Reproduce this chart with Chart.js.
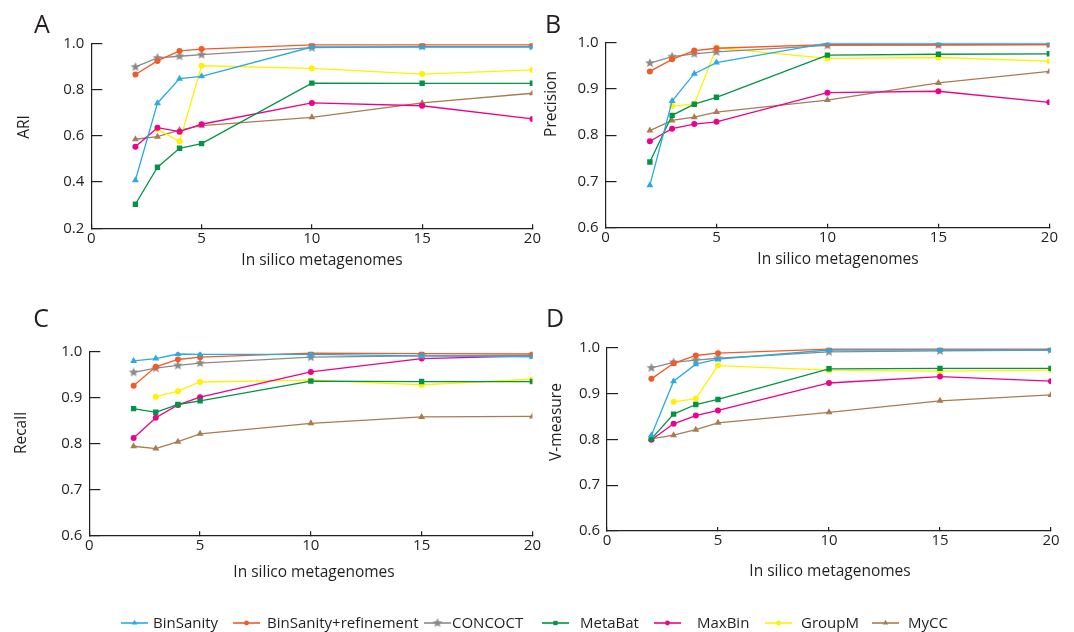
<!DOCTYPE html>
<html>
<head>
<meta charset="utf-8">
<script src="https://cdn.jsdelivr.net/npm/chart.js@4.4.1/dist/chart.umd.min.js"></script>
<style>
  body { margin: 0; width: 1074px; height: 632px; background: #fff; position: relative; overflow: hidden;
         font-family: 'Open Sans', sans-serif; color: #231f20; }
  canvas { position: absolute; }
  .txt { position: absolute; white-space: nowrap; line-height: 1; transform: translate(-50%, -50%); }
  .letter { font-size: 25px; }
  .title { font-size: 15.5px; }
  .ytitle { transform: translate(-50%, -50%) rotate(-90deg); }
  .leg { position: absolute; font-size: 15px; line-height: 1; top: 615px; white-space: nowrap; }
</style>
</head>
<body>
<canvas id="chartA" width="546" height="282"></canvas>
<canvas id="chartB" width="537" height="282"></canvas>
<canvas id="chartC" width="546" height="292"></canvas>
<canvas id="chartD" width="537" height="292"></canvas>
<canvas id="legendMarks" width="1074" height="20" style="left:0;top:613px"></canvas>

<div class="txt letter" style="left:42px;top:23px">A</div>
<div class="txt letter" style="left:553px;top:23px">B</div>
<div class="txt letter" style="left:41px;top:317px">C</div>
<div class="txt letter" style="left:555px;top:317px">D</div>

<div class="txt title ytitle" style="left:24px;top:127px">ARI</div>
<div class="txt title ytitle" style="left:551px;top:104px">Precision</div>
<div class="txt title ytitle" style="left:21px;top:433px">Recall</div>
<div class="txt title ytitle" style="left:556px;top:422px">V-measure</div>

<div class="txt title" style="left:322px;top:260px">In silico metagenomes</div>
<div class="txt title" style="left:838px;top:259px">In silico metagenomes</div>
<div class="txt title" style="left:314px;top:572px">In silico metagenomes</div>
<div class="txt title" style="left:830px;top:571px">In silico metagenomes</div>

<script>
// x: number of in silico metagenomes
const xValues = [2, 3, 4, 5, 10, 15, 20];
const methodNames = ['BinSanity', 'BinSanity+refinement', 'CONCOCT', 'MetaBat', 'MaxBin', 'GroupM', 'MyCC'];

// A - ARI
const ariBinSanity = [0.408, 0.741, 0.847, 0.857, 0.984, 0.984, 0.984];
const ariRefine    = [0.865, 0.924, 0.967, 0.975, 0.993, 0.993, 0.993];
const ariConcoct   = [0.898, 0.937, 0.944, 0.951, 0.981, 0.986, 0.986];
const ariMetaBat   = [0.304, 0.464, 0.546, 0.566, 0.828, 0.827, 0.827];
const ariMaxBin    = [0.553, 0.635, 0.618, 0.650, 0.742, 0.730, 0.673];
const ariGroupM    = [null, 0.628, 0.575, 0.903, 0.892, 0.867, 0.885];
const ariMyCC      = [0.585, 0.596, 0.625, 0.644, 0.680, 0.742, 0.784];

// B - Precision
const precBinSanity = [0.692, 0.874, 0.933, 0.957, 0.999, 0.999, 0.999];
const precRefine    = [0.938, 0.964, 0.983, 0.988, 0.996, 0.996, 0.996];
const precConcoct   = [0.956, 0.970, 0.976, 0.980, 0.994, 0.995, 0.996];
const precMetaBat   = [0.742, 0.843, 0.867, 0.882, 0.973, 0.975, 0.976];
const precMaxBin    = [0.787, 0.814, 0.824, 0.829, 0.892, 0.895, 0.871];
const precGroupM    = [null, 0.863, 0.867, 0.989, 0.966, 0.968, 0.960];
const precMyCC      = [0.810, 0.832, 0.839, 0.850, 0.876, 0.913, 0.938];

// C - Recall
const recBinSanity = [0.980, 0.985, 0.995, 0.994, 0.994, 0.991, 0.989];
const recRefine    = [0.926, 0.967, 0.983, 0.988, 0.997, 0.996, 0.995];
const recConcoct   = [0.955, 0.964, 0.970, 0.975, 0.988, 0.991, 0.992];
const recMetaBat   = [0.876, 0.868, 0.885, 0.893, 0.936, 0.935, 0.935];
const recMaxBin    = [0.812, 0.856, 0.884, 0.901, 0.956, 0.985, 0.991];
const recGroupM    = [null, 0.902, 0.914, 0.934, 0.938, 0.928, 0.940];
const recMyCC      = [0.794, 0.789, 0.804, 0.821, 0.844, 0.858, 0.859];

// D - V-measure
const vmBinSanity = [0.809, 0.927, 0.964, 0.975, 0.995, 0.995, 0.995];
const vmRefine    = [0.932, 0.966, 0.983, 0.988, 0.997, 0.997, 0.997];
const vmConcoct   = [0.956, 0.968, 0.973, 0.977, 0.991, 0.993, 0.995];
const vmMetaBat   = [0.801, 0.855, 0.876, 0.887, 0.954, 0.955, 0.955];
const vmMaxBin    = [0.799, 0.834, 0.852, 0.863, 0.923, 0.937, 0.927];
const vmGroupM    = [null, 0.882, 0.889, 0.961, 0.951, 0.949, 0.951];
const vmMyCC      = [0.801, 0.809, 0.821, 0.836, 0.859, 0.884, 0.897];

// styles
const colors = ['#29abe2', '#f15a29', '#8a8a8a', '#009444', '#ec008c', '#fff200', '#a97c50'];
const ink = '#231f20';

// filled 5-point star for CONCOCT
function makeStar(color, r) {
  const c = document.createElement('canvas');
  const s = Math.ceil(r * 2 + 2);
  c.width = s; c.height = s;
  const g = c.getContext('2d');
  g.fillStyle = color;
  g.beginPath();
  for (let i = 0; i < 10; i++) {
    const rad = i % 2 === 0 ? r : r * 0.45;
    const a = -Math.PI / 2 + i * Math.PI / 5;
    g.lineTo(s / 2 + rad * Math.cos(a), s / 2 + rad * Math.sin(a));
  }
  g.closePath();
  g.fill();
  return c;
}
const starImg = makeStar(colors[2], 5);
const markers = ['triangle', 'circle', starImg, 'rect', 'circle', 'circle', 'triangle'];
const radii = [4, 3, 5, 3.8, 3, 3, 4];

Chart.defaults.font.family = "'Open Sans', sans-serif";
Chart.defaults.font.size = 15;
Chart.defaults.color = ink;

// ticks point into the plot: negative tick length, padding makes up for it
function makePanel(id, box, area, yMin, yMax, yStep, series) {
  const cv = document.getElementById(id);
  cv.style.left = box.left + 'px';
  cv.style.top = box.top + 'px';
  const l = area.l - box.left, t = area.t - box.top, r = area.r - box.left, b = area.b - box.top;
  const datasets = series.map((vals, i) => ({
    label: methodNames[i],
    data: xValues.map((x, j) => ({x: x, y: vals[j]})),
    borderColor: colors[i],
    backgroundColor: colors[i],
    borderWidth: 1.3,
    pointStyle: markers[i],
    pointRadius: radii[i],
    pointBorderWidth: 0,
    pointBackgroundColor: colors[i],
    tension: 0
  }));
  return new Chart(cv, {
    type: 'line',
    data: {datasets: datasets},
    options: {
      responsive: false,
      animation: false,
      layout: {padding: {left: 0, top: t, right: box.width - r, bottom: 0}},
      plugins: {legend: {display: false}, tooltip: {enabled: false}},
      scales: {
        x: {
          type: 'linear', min: 0, max: 20,
          afterFit: s => { s.height = box.height - b; },
          ticks: {stepSize: 5, padding: 5, maxRotation: 0, callback: v => v},
          grid: {drawOnChartArea: false, drawTicks: true, tickLength: -4, color: ink, lineWidth: 1.2},
          border: {display: true, color: ink, width: 1.2}
        },
        y: {
          min: yMin, max: yMax,
          afterFit: s => { s.width = l; },
          ticks: {stepSize: yStep, padding: 18, callback: v => v.toFixed(1)},
          grid: {drawOnChartArea: false, drawTicks: true, tickLength: -11, color: ink, lineWidth: 1.2},
          border: {display: true, color: ink, width: 1.2}
        }
      }
    }
  });
}

makePanel('chartA', {left: 0, top: 0, width: 546, height: 282},
  {l: 91.3, t: 43.3, r: 533.8, b: 228.3}, 0.2, 1.0, 0.2,
  [ariBinSanity, ariRefine, ariConcoct, ariMetaBat, ariMaxBin, ariGroupM, ariMyCC]);
makePanel('chartB', {left: 537, top: 0, width: 537, height: 282},
  {l: 605.5, t: 42.7, r: 1049.4, b: 227.7}, 0.6, 1.0, 0.1,
  [precBinSanity, precRefine, precConcoct, precMetaBat, precMaxBin, precGroupM, precMyCC]);
makePanel('chartC', {left: 0, top: 290, width: 546, height: 292},
  {l: 89.3, t: 351.7, r: 532.7, b: 535.3}, 0.6, 1.0, 0.1,
  [recBinSanity, recRefine, recConcoct, recMetaBat, recMaxBin, recGroupM, recMyCC]);
makePanel('chartD', {left: 537, top: 290, width: 537, height: 292},
  {l: 607, t: 347.7, r: 1051, b: 531}, 0.6, 1.0, 0.1,
  [vmBinSanity, vmRefine, vmConcoct, vmMetaBat, vmMaxBin, vmGroupM, vmMyCC]);

// shared legend along the bottom
const legLineX = [121, 233, 424, 542, 654, 765, 872];
const legTextX = [153, 267, 452, 580, 697, 801, 908];
const lg = document.getElementById('legendMarks').getContext('2d');
methodNames.forEach((name, i) => {
  const y = 10;
  lg.strokeStyle = colors[i];
  lg.lineWidth = 1.6;
  lg.beginPath();
  lg.moveTo(legLineX[i], y);
  lg.lineTo(legLineX[i] + 27, y);
  lg.stroke();
  lg.fillStyle = colors[i];
  Chart.helpers.drawPoint(lg, {pointStyle: markers[i], radius: radii[i] * 0.8, borderWidth: 0, rotation: 0},
    legLineX[i] + 13.5, y);
  const sp = document.createElement('div');
  sp.className = 'leg';
  sp.style.left = legTextX[i] + 'px';
  sp.textContent = name;
  document.body.appendChild(sp);
});
</script>
</body>
</html>
